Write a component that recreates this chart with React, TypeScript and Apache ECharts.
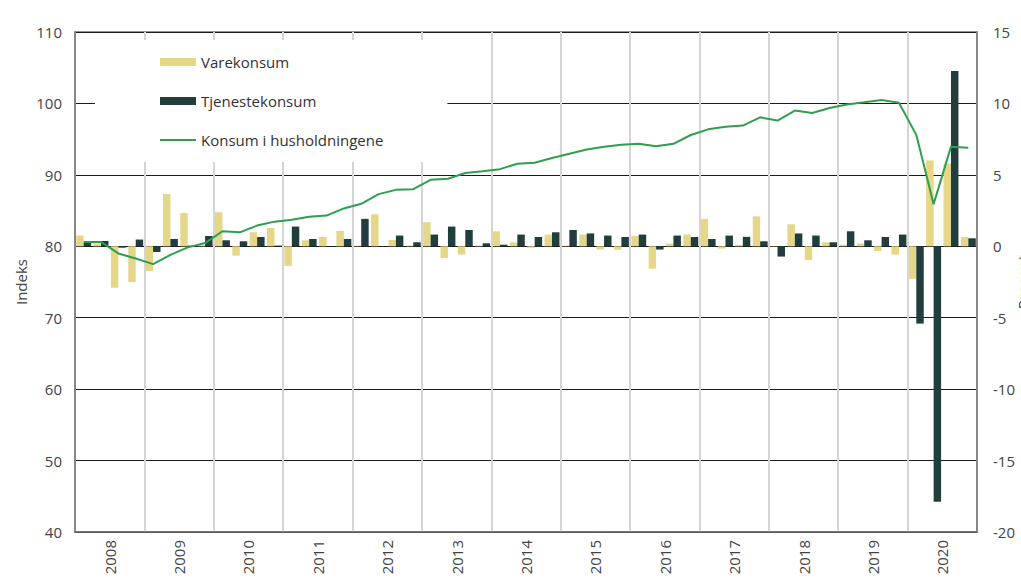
import React, { useEffect, useRef } from "react";
import * as echarts from "echarts";

const years = ["2008", "2009", "2010", "2011", "2012", "2013", "2014", "2015", "2016", "2017", "2018", "2019", "2020"];
const quarters = years.flatMap((y) => ["K1", "K2", "K3", "K4"].map((q) => `${y}${q}`));

const varekonsum = [
  0.75, 0.2, -2.9, -2.5, -1.73, 3.66, 2.33, 0.1, 2.38, -0.65, 0.98, 1.28,
  -1.37, 0.42, 0.66, 1.07, 0.05, 2.24, 0.44, 0.05, 1.68, -0.82, -0.58, 0.05,
  1.05, 0.28, -0.1, 0.82, 0.05, 0.82, -0.23, -0.24, 0.73, -1.57, 0.19, 0.83,
  1.92, -0.16, 0.11, 2.09, 0.03, 1.54, -0.96, 0.28, 0.11, 0.19, -0.33, -0.58,
  -2.28, 6.01, 5.79, 0.65,
];

const tjenestekonsum = [
  0.25, 0.37, -0.1, 0.47, -0.4, 0.51, 0.05, 0.72, 0.42, 0.35, 0.65, 0.05,
  1.38, 0.51, 0.02, 0.51, 1.92, 0.02, 0.75, 0.28, 0.82, 1.38, 1.14, 0.21,
  0.11, 0.82, 0.65, 0.98, 1.14, 0.9, 0.75, 0.65, 0.82, -0.23, 0.75, 0.65,
  0.51, 0.75, 0.66, 0.35, -0.72, 0.9, 0.75, 0.28, 1.05, 0.42, 0.65, 0.82,
  -5.41, -17.88, 12.27, 0.56,
];

const konsum = [
  80.6, 80.6, 79.0, 78.3, 77.5, 78.8, 79.85, 80.45, 82.1, 81.95, 82.9, 83.45,
  83.7, 84.15, 84.3, 85.3, 85.95, 87.3, 87.9, 88.0, 89.3, 89.45, 90.25, 90.5,
  90.8, 91.55, 91.7, 92.35, 92.95, 93.55, 93.95, 94.2, 94.35, 94.0, 94.35, 95.58,
  96.37, 96.75, 96.9, 98.05, 97.6, 99.0, 98.66, 99.36, 99.85, 100.15, 100.48, 100.1,
  95.6, 85.9, 93.95, 93.8,
];

const FONT = "'Open Sans', 'DejaVu Sans', sans-serif";
const TEXT = "#444444";

export default function App() {
  const ref = useRef<HTMLDivElement>(null);

  useEffect(() => {
    if (!ref.current) return;
    const chart = echarts.init(ref.current, undefined, { renderer: "svg" });
    chart.setOption({
      animation: false,
      textStyle: { fontFamily: FONT },
      grid: {
        left: 75,
        right: 44,
        top: 32,
        bottom: 54,
        outerBoundsMode: "none",
        containLabel: false,
        show: true,
        borderColor: "#6e6e6e",
        borderWidth: 1.5,
        backgroundColor: "transparent",
      },
      legend: {
        orient: "vertical",
        left: 95,
        top: 40,
        padding: [12, 64, 12, 64],
        backgroundColor: "#ffffff",
        itemWidth: 36,
        itemHeight: 8,
        itemGap: 19,
        textStyle: { fontSize: 15, color: "#333", fontFamily: FONT, lineHeight: 20 },
        data: [
          { name: "Varekonsum", icon: "rect" },
          { name: "Tjenestekonsum", icon: "rect" },
          { name: "Konsum i husholdningene", itemStyle: { opacity: 0 } },
        ],
      },
      xAxis: [
        {
          type: "category",
          data: quarters,
          show: false,
          position: "bottom",
          boundaryGap: true,
        },
        {
          type: "category",
          data: years,
          position: "bottom",
          boundaryGap: true,
          axisLine: { show: true, lineStyle: { color: "#6e6e6e", width: 1.5 } },
          axisTick: { show: false },
          axisLabel: {
            interval: 0,
            rotate: 90,
            margin: 8,
            fontSize: 15,
            color: TEXT,
            fontFamily: FONT,
          },
          splitLine: {
            show: true,
            interval: 0,
            lineStyle: { color: "#d5d5d5", width: 2 },
          },
        },
      ],
      yAxis: [
        {
          type: "value",
          min: 40,
          max: 110,
          interval: 10,
          position: "left",
          name: "Indeks",
          nameLocation: "middle",
          nameGap: 47,
          nameMoveOverlap: false,
          nameTextStyle: { fontSize: 15, color: TEXT, fontFamily: FONT },
          axisLine: { show: true, lineStyle: { color: "#6e6e6e", width: 1.5 } },
          axisTick: { show: false },
          axisLabel: { fontSize: 15, color: TEXT, margin: 13, fontFamily: FONT },
          splitLine: { show: true, lineStyle: { color: "#1a1a1a", width: 1 } },
        },
        {
          type: "value",
          min: -20,
          max: 15,
          interval: 5,
          position: "right",
          name: "Prosent",
          nameLocation: "middle",
          nameGap: 38,
          nameMoveOverlap: false,
          nameTextStyle: { fontSize: 15, color: TEXT, fontFamily: FONT },
          axisLine: { show: true, lineStyle: { color: "#6e6e6e", width: 1.5 } },
          axisTick: { show: false },
          axisLabel: { fontSize: 15, color: TEXT, margin: 16, fontFamily: FONT },
          splitLine: { show: false },
        },
      ],
      series: [
        {
          name: "Varekonsum",
          type: "bar",
          xAxisIndex: 0,
          yAxisIndex: 1,
          data: varekonsum,
          barGap: "0%",
          barCategoryGap: "14%",
          itemStyle: { color: "#e5d688" },
          z: 3,
        },
        {
          name: "Tjenestekonsum",
          type: "bar",
          xAxisIndex: 0,
          yAxisIndex: 1,
          data: tjenestekonsum,
          barGap: "0%",
          barCategoryGap: "14%",
          itemStyle: { color: "#213d3c" },
          z: 3,
        },
        {
          name: "Konsum i husholdningene",
          type: "line",
          xAxisIndex: 0,
          yAxisIndex: 0,
          data: konsum,
          symbol: "none",
          showSymbol: false,
          lineStyle: { color: "#2f9e4f", width: 2 },
          itemStyle: { color: "#2f9e4f" },
          z: 5,
        },
      ],
    });
    return () => chart.dispose();
  }, []);

  return (
    <div
      ref={ref}
      style={{ position: "fixed", left: 0, top: 0, width: 1021, height: 586, background: "#fff" }}
    />
  );
}
